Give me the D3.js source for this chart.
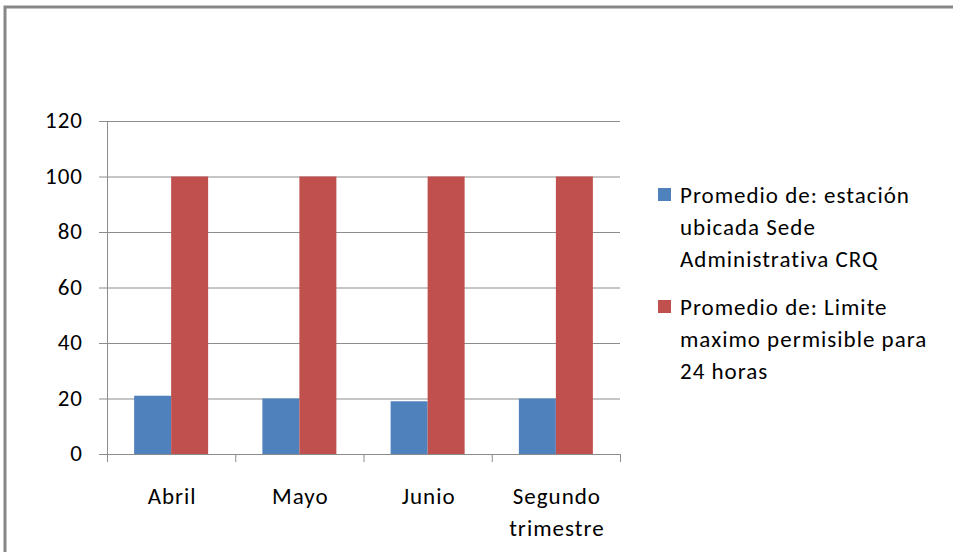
<!DOCTYPE html>
<html>
<head>
<meta charset="utf-8">
<script src="https://cdn.jsdelivr.net/npm/d3@7"></script>
<style>
  body { margin: 0; background: #fff; }
  text { font-family: Carlito, "Open Sans", sans-serif; fill: #000; letter-spacing: 1px; }
</style>
</head>
<body>
<div id="chart"></div>
<script>
const months = ['Abril', 'Mayo', 'Junio', 'Segundo trimestre'];
const estacion = [21, 20, 19, 20];
const limite = [100, 100, 100, 100];
const seriesNames = [
  ['Promedio de: estación', 'ubicada Sede', 'Administrativa CRQ'],
  ['Promedio de: Limite', 'maximo permisible para', '24 horas']
];
const seriesColors = ['#4F81BD', '#C0504D'];
const yTicks = [0, 20, 40, 60, 80, 100, 120];

const width = 953, height = 552;
const plot = { left: 107, right: 620, top: 121, bottom: 454 };
const fontSize = '23px';

const svg = d3.select('#chart').append('svg')
  .attr('width', width)
  .attr('height', height);

// outer chart frame (runs off the right and bottom edges)
svg.append('rect')
  .attr('x', 5).attr('y', 7)
  .attr('width', 1000).attr('height', 600)
  .attr('fill', 'none')
  .attr('stroke', '#878787')
  .attr('stroke-width', 3);

const x = d3.scaleBand().domain(months).range([plot.left, plot.right]);
const y = d3.scaleLinear().domain([0, 120]).range([plot.bottom, plot.top]);
const barW = 37;

// gridlines
svg.append('g').selectAll('line')
  .data(yTicks)
  .enter().append('line')
  .attr('x1', plot.left - 8).attr('x2', plot.right)
  .attr('y1', d => y(d) + 0.5).attr('y2', d => y(d) + 0.5)
  .attr('stroke', '#8c8c8c').attr('stroke-width', 1);

// y labels
svg.append('g').selectAll('text')
  .data(yTicks)
  .enter().append('text')
  .attr('x', 83)
  .attr('y', d => y(d) + 7)
  .attr('text-anchor', 'end')
  .attr('font-size', fontSize)
  .text(d => d);

// bars
const groups = svg.append('g').selectAll('g')
  .data(months)
  .enter().append('g')
  .attr('transform', d => `translate(${x(d) + x.bandwidth() / 2}, 0)`);

groups.append('rect')
  .attr('x', -barW)
  .attr('width', barW)
  .attr('y', (d, i) => y(estacion[i]))
  .attr('height', (d, i) => y(0) - y(estacion[i]))
  .attr('fill', seriesColors[0]);

groups.append('rect')
  .attr('x', 0)
  .attr('width', barW)
  .attr('y', (d, i) => y(limite[i]))
  .attr('height', (d, i) => y(0) - y(limite[i]))
  .attr('fill', seriesColors[1]);

// axis lines and ticks
svg.append('line')
  .attr('x1', plot.left + 0.5).attr('x2', plot.left + 0.5)
  .attr('y1', plot.top).attr('y2', plot.bottom + 8)
  .attr('stroke', '#8c8c8c');

const xTicks = months.map(m => x(m)).concat([plot.right]);
svg.append('g').selectAll('line')
  .data(xTicks)
  .enter().append('line')
  .attr('x1', d => d + 0.5).attr('x2', d => d + 0.5)
  .attr('y1', plot.bottom).attr('y2', plot.bottom + 8)
  .attr('stroke', '#8c8c8c');

// x labels
svg.append('g').selectAll('text')
  .data(months)
  .enter().append('text')
  .attr('text-anchor', 'middle')
  .attr('font-size', fontSize)
  .each(function(d) {
    const words = d === 'Segundo trimestre' ? ['Segundo', 'trimestre'] : [d];
    const t = d3.select(this);
    words.forEach((w, i) => {
      t.append('tspan')
        .attr('x', x(d) + x.bandwidth() / 2 + 1)
        .attr('y', 504 + i * 32)
        .text(w);
    });
  });

// legend
const legend = svg.append('g').selectAll('g')
  .data(seriesNames)
  .enter().append('g')
  .attr('transform', (d, i) => `translate(658, ${188 + i * 112})`);

legend.append('rect')
  .attr('width', 13).attr('height', 13)
  .attr('fill', (d, i) => seriesColors[i]);

legend.append('text')
  .attr('font-size', fontSize)
  .each(function(lines) {
    const t = d3.select(this);
    lines.forEach((l, i) => {
      t.append('tspan')
        .attr('x', 22)
        .attr('y', 15 + i * 32)
        .text(l);
    });
  });
</script>
</body>
</html>
